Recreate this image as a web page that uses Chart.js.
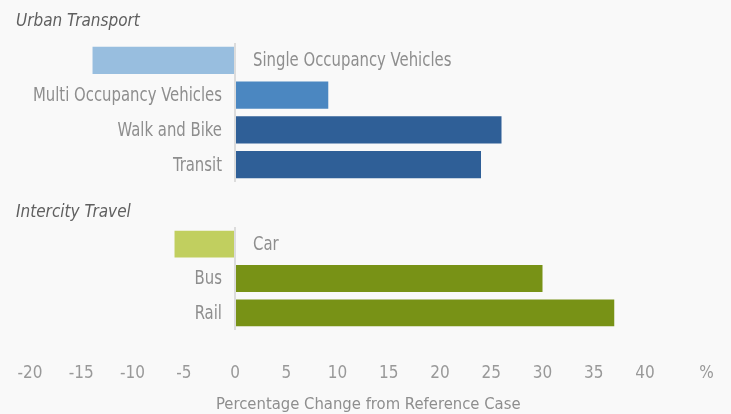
<!DOCTYPE html>
<html>
<head>
<meta charset="utf-8">
<script src="https://cdn.jsdelivr.net/npm/chart.js@4.4.1/dist/chart.umd.min.js"></script>
<style>
  html, body { margin: 0; padding: 0; background: #f9f9f9; }
  #wrap { position: relative; width: 731px; height: 414px; overflow: hidden; background: #f9f9f9; }
  .box { position: absolute; left: 0; width: 731px; }
  #topBox { top: 0; height: 185px; }
  #botBox { top: 185px; height: 229px; }
</style>
</head>
<body>
<div id="wrap">
  <div class="box" id="topBox"><canvas id="topChart"></canvas></div>
  <div class="box" id="botBox"><canvas id="botChart"></canvas></div>
</div>
<script>
// ---- data ----
const urbanTitle = "Urban Transport";
const urbanCategories = ["Single Occupancy Vehicles", "Multi Occupancy Vehicles", "Walk and Bike", "Transit"];
const urbanValues = [-13.9, 9.1, 26.0, 24.0];
const urbanColors = ["#98bedf", "#4b87c1", "#2f5f97", "#2f5f97"];

const intercityTitle = "Intercity Travel";
const intercityCategories = ["Car", "Bus", "Rail"];
const intercityValues = [-5.9, 30.0, 37.0];
const intercityColors = ["#c1cf5f", "#789216", "#789216"];

const xTickValues = [-20, -15, -10, -5, 0, 5, 10, 15, 20, 25, 30, 35, 40];
const xUnitLabel = "%";
const xAxisTitle = "Percentage Change from Reference Case";
const xMin = -20, xMax = 46;

// ---- style ----
const FONT = "'Liberation Sans Narrow', 'DejaVu Sans Condensed', 'Roboto', sans-serif";
const LABEL_COLOR = "#8e8e8e";
const TICK_COLOR = "#999999";
const HEADER_COLOR = "#5f5f5f";
const ZERO_COLOR = "#dcdcdc";
const LABEL_SQUEEZE = 0.87;

const labelPlugin = {
  id: "catLabels",
  afterDatasetsDraw(chart, args, opts) {
    const ctx = chart.ctx;
    const xs = chart.scales.x;
    const zero = xs.getPixelForValue(0);
    const meta = chart.getDatasetMeta(0);
    const data = chart.data.datasets[0].data;
    ctx.save();
    ctx.font = "19px " + FONT;
    ctx.fillStyle = LABEL_COLOR;
    ctx.textBaseline = "middle";
    meta.data.forEach((bar, i) => {
      const v = data[i];
      const lbl = chart.data.labels[i];
      ctx.save();
      if (v >= 0) {
        ctx.textAlign = "right";
        ctx.translate(zero - 13, bar.y + 1);
      } else {
        ctx.textAlign = "left";
        ctx.translate(zero + 18, bar.y + 1);
      }
      ctx.scale(LABEL_SQUEEZE, 1);
      ctx.fillText(lbl, 0, 0);
      ctx.restore();
    });
    // header
    ctx.font = "italic 17px " + FONT;
    ctx.fillStyle = HEADER_COLOR;
    ctx.textAlign = "left";
    ctx.fillText(opts.header, 16, opts.headerY);
    ctx.restore();
  }
};

function makeChart(id, labels, values, colors, header, headerY, showAxis) {
  return new Chart(document.getElementById(id), {
    type: "bar",
    data: {
      labels: labels,
      datasets: [{
        data: values,
        backgroundColor: colors,
        borderWidth: 0,
        barPercentage: 0.78,
        categoryPercentage: 1.0
      }]
    },
    options: {
      indexAxis: "y",
      responsive: true,
      maintainAspectRatio: false,
      animation: false,
      layout: { padding: showAxis ? { left: 30, right: 24.5, top: 42, bottom: 0 } : { left: 30, right: 24.5, top: 43, bottom: 3 } },
      plugins: {
        legend: { display: false },
        tooltip: { enabled: false },
        catLabels: { header: header, headerY: headerY }
      },
      scales: {
        y: { display: false },
        x: {
          type: "linear",
          min: xMin,
          max: xMax,
          border: { display: false },
          grid: {
            drawTicks: false,
            lineWidth: 2,
            color: (c) => (c.tick && c.tick.value === 0 ? ZERO_COLOR : "rgba(0,0,0,0)")
          },
          afterBuildTicks: (scale) => {
            scale.ticks = xTickValues.map(v => ({ value: v })).concat([{ value: xMax }]);
          },
          afterFit: (scale) => {
            scale.height = showAxis ? 84 : 0;
            scale.paddingLeft = 0;
            scale.paddingRight = 0;
          },
          ticks: {
            display: showAxis,
            autoSkip: false,
            maxRotation: 0,
            padding: 33,
            color: TICK_COLOR,
            font: { family: FONT, size: 17 },
            callback: (value, index, ticks) => (index === ticks.length - 1 ? xUnitLabel : value)
          },
          title: {
            display: showAxis,
            text: xAxisTitle,
            color: LABEL_COLOR,
            font: { family: FONT, size: 16.5 },
            padding: { top: 0, bottom: -1 }
          }
        }
      }
    },
    plugins: [labelPlugin]
  });
}

makeChart("topChart", urbanCategories, urbanValues, urbanColors, urbanTitle, 22, false);
makeChart("botChart", intercityCategories, intercityValues, intercityColors, intercityTitle, 28, true);
</script>
</body>
</html>
